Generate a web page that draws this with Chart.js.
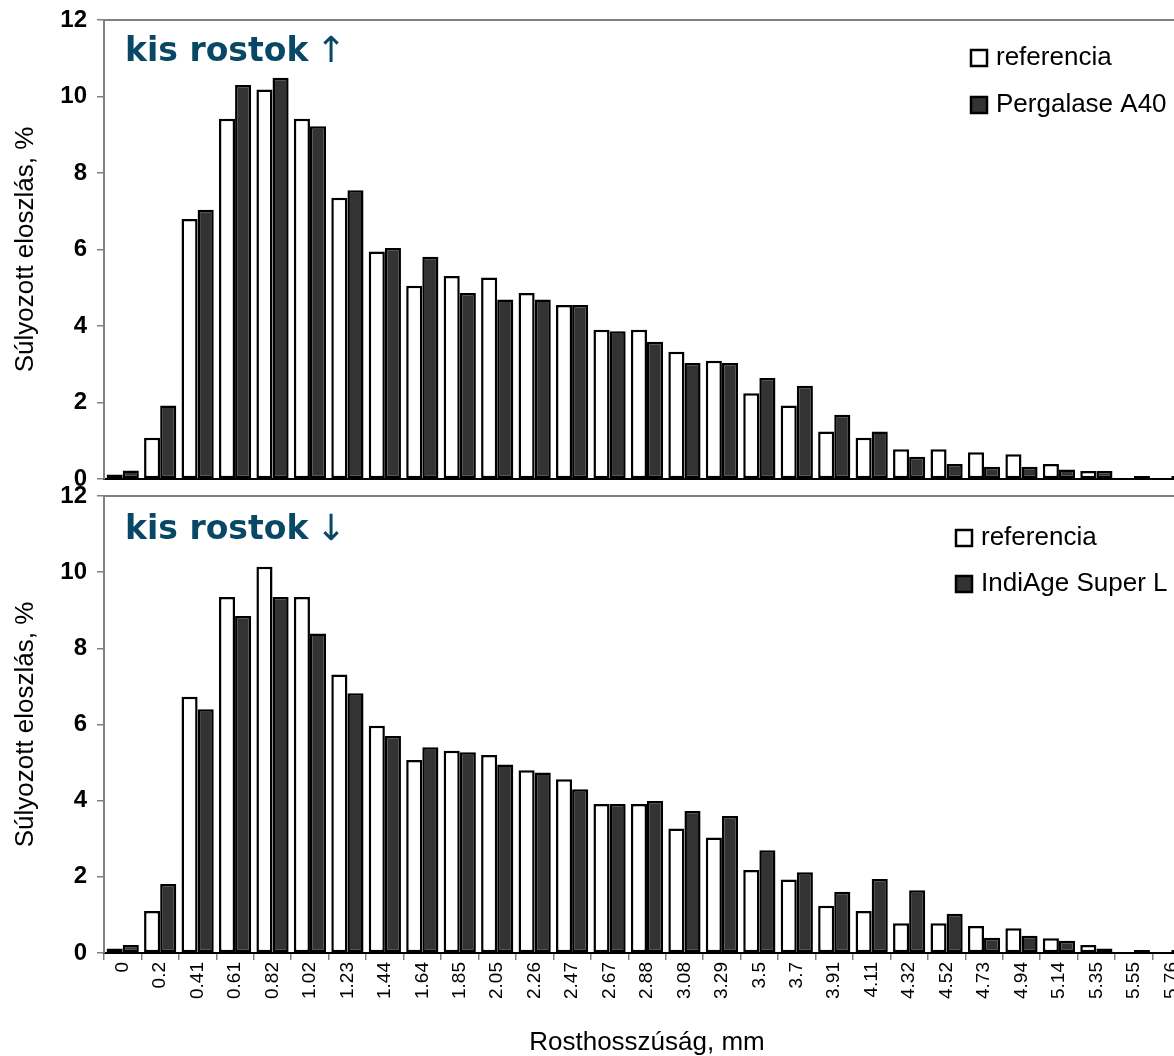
<!DOCTYPE html>
<html lang="hu">
<head>
<meta charset="utf-8">
<title>Rosthosszúság eloszlás</title>
<script src="https://cdn.jsdelivr.net/npm/chart.js@4.4.1/dist/chart.umd.min.js"></script>
<style>
  html, body { margin: 0; padding: 0; overflow: hidden; background: #fff; }
  #page { position: relative; width: 1174px; height: 1056px; overflow: hidden; }
  .panel { position: absolute; left: 0; }
  #top-panel { top: 0; }
  #bottom-panel { top: 470px; }
</style>
</head>
<body>
<div id="page">
  <div class="panel" id="top-panel"><canvas id="chart-top" width="1200" height="500"></canvas></div>
  <div class="panel" id="bottom-panel"><canvas id="chart-bottom" width="1200" height="586"></canvas></div>
</div>
<script>
const lengthLabels = [
  "0", "0.2", "0.41", "0.61", "0.82", "1.02", "1.23", "1.44", "1.64", "1.85",
  "2.05", "2.26", "2.47", "2.67", "2.88", "3.08", "3.29", "3.5", "3.7", "3.91",
  "4.11", "4.32", "4.52", "4.73", "4.94", "5.14", "5.35", "5.55", "5.76",
];

// upper panel: reference vs Pergalase A40
const referenceTop = [
  0.12, 1.08, 6.80, 9.42, 10.18, 9.42, 7.35, 5.95, 5.05, 5.31,
  5.27, 4.86, 4.55, 3.90, 3.90, 3.33, 3.09, 2.24, 1.92, 1.24,
  1.08, 0.78, 0.78, 0.70, 0.65, 0.39, 0.21, 0, 0,
];
const pergalase = [
  0.22, 1.92, 7.04, 10.30, 10.49, 9.22, 7.55, 6.04, 5.81, 4.86,
  4.69, 4.69, 4.55, 3.86, 3.59, 3.03, 3.03, 2.64, 2.44, 1.68,
  1.24, 0.58, 0.39, 0.32, 0.32, 0.25, 0.21, 0.08, 0.08,
];

// lower panel: reference vs IndiAge Super L
const referenceBottom = [
  0.12, 1.10, 6.73, 9.35, 10.14, 9.35, 7.31, 5.97, 5.07, 5.31,
  5.20, 4.80, 4.56, 3.91, 3.91, 3.27, 3.03, 2.18, 1.93, 1.24,
  1.10, 0.78, 0.78, 0.71, 0.65, 0.39, 0.21, 0, 0,
];
const indiAge = [
  0.21, 1.81, 6.40, 8.85, 9.35, 8.39, 6.82, 5.70, 5.40, 5.27,
  4.95, 4.74, 4.30, 3.91, 3.99, 3.73, 3.60, 2.70, 2.12, 1.61,
  1.94, 1.65, 1.03, 0.40, 0.45, 0.32, 0.12, 0.08, 0.08,
];

const Y_MIN = 0;
const Y_MAX = 12;
const Y_STEP = 2;

const FONT = "'Liberation Sans', Arial, sans-serif";
const NOTE_FONT = "'DejaVu Sans', Verdana, sans-serif";
const NOTE_COLOR = "#084766";

// gray frame line along the top of the plot area
const plotFrame = {
  id: "plotFrame",
  beforeDatasetsDraw(chart) {
    const { ctx, chartArea } = chart;
    ctx.save();
    ctx.strokeStyle = "#808080";
    ctx.lineWidth = 2;
    ctx.beginPath();
    ctx.moveTo(chartArea.left, chartArea.top);
    ctx.lineTo(chartArea.right, chartArea.top);
    ctx.lineTo(chartArea.right, chartArea.bottom);
    ctx.stroke();
    ctx.restore();
  },
};

const cornerNote = {
  id: "cornerNote",
  afterDraw(chart, args, opts) {
    if (!opts.text) return;
    const { ctx } = chart;
    ctx.save();
    ctx.fillStyle = NOTE_COLOR;
    ctx.textBaseline = "alphabetic";
    ctx.font = `bold 33px ${NOTE_FONT}`;
    ctx.fillText(opts.text, opts.x, opts.y);
    const w = ctx.measureText(opts.text + " ").width;
    ctx.font = `36px ${NOTE_FONT}`;
    ctx.fillText(opts.arrow, opts.x + w - 4, opts.y + 1);
    ctx.restore();
  },
};

const boxLegend = {
  id: "boxLegend",
  afterDraw(chart, args, opts) {
    if (!opts.x) return;
    const { ctx } = chart;
    ctx.save();
    ctx.font = `26px ${FONT}`;
    ctx.textBaseline = "middle";
    chart.data.datasets.forEach((ds, i) => {
      const y = opts.y + i * opts.rowGap;
      ctx.fillStyle = ds.backgroundColor;
      ctx.fillRect(opts.x, y - 8, 16, 16);
      ctx.lineWidth = 2.5;
      ctx.strokeStyle = "#000";
      ctx.strokeRect(opts.x, y - 8, 16, 16);
      ctx.fillStyle = "#000";
      ctx.fillText(ds.label, opts.x + 25, y);
    });
    ctx.restore();
  },
};

function barSet(label, data, fill) {
  return {
    label,
    data,
    backgroundColor: fill,
    borderColor: "#000",
    borderWidth: 2.5,
    borderSkipped: false,
    categoryPercentage: 0.86,
    barPercentage: 1.0,
  };
}

function buildPanel(canvasId, refData, treatedData, treatedLabel, panel) {
  const yAxis = {
    min: Y_MIN,
    max: Y_MAX,
    afterFit: (scale) => {
      scale.width = 104;
      scale.paddingTop = 12;
      scale.paddingBottom = 12;
    },
    ticks: {
      stepSize: Y_STEP,
      color: "#000",
      padding: 10,
      font: { family: FONT, size: 24, weight: "bold" },
    },
    grid: { drawOnChartArea: false, tickLength: 7, color: "#808080", lineWidth: 1.5 },
    border: { color: "#808080", width: 2 },
    title: {
      display: true,
      text: "Súlyozott eloszlás, %",
      color: "#000",
      font: { family: FONT, size: 26 },
      padding: { top: 10, bottom: 0 },
    },
  };

  const xAxis = panel.showLabels
    ? {
        afterFit: (scale) => { scale.height = panel.xHeight; },
        ticks: {
          autoSkip: false,
          maxRotation: 90,
          minRotation: 90,
          padding: 2,
          color: "#000",
          font: { family: FONT, size: 19 },
        },
        grid: { drawOnChartArea: false, tickLength: 7, color: "#808080", lineWidth: 1.5 },
        border: { color: "#000", width: 2 },
        title: {
          display: true,
          text: "Rosthosszúság, mm",
          color: "#000",
          font: { family: FONT, size: 26, lineHeight: 1.0 },
          padding: { top: 0, bottom: 0 },
        },
      }
    : {
        afterFit: (scale) => { scale.height = panel.xHeight; },
        ticks: { display: false },
        grid: { drawOnChartArea: false, drawTicks: false },
        border: { color: "#000", width: 2 },
      };

  return new Chart(document.getElementById(canvasId), {
    type: "bar",
    data: {
      labels: lengthLabels,
      datasets: [barSet("referencia", refData, "#ffffff"), barSet(treatedLabel, treatedData, "#333333")],
    },
    options: {
      responsive: false,
      maintainAspectRatio: false,
      animation: false,
      layout: { padding: { top: panel.padTop, right: 10, left: 0, bottom: 0 } },
      scales: { x: xAxis, y: yAxis },
      plugins: {
        legend: { display: false },
        tooltip: { enabled: false },
        cornerNote: panel.note,
        boxLegend: panel.legend,
      },
    },
    plugins: [plotFrame, cornerNote, boxLegend],
  });
}

document.addEventListener("DOMContentLoaded", () => {
  buildPanel("chart-top", referenceTop, pergalase, "Pergalase A40", {
    showLabels: false,
    padTop: 20,
    xHeight: 21,
    note: { text: "kis rostok", arrow: "\u2191", x: 125, y: 61 },
    legend: { x: 971, y: 58, rowGap: 47 },
  });
  buildPanel("chart-bottom", referenceBottom, indiAge, "IndiAge Super L", {
    showLabels: true,
    padTop: 26,
    xHeight: 103,
    note: { text: "kis rostok", arrow: "\u2193", x: 125, y: 69 },
    legend: { x: 956, y: 68, rowGap: 46 },
  });
});
</script>
</body>
</html>
